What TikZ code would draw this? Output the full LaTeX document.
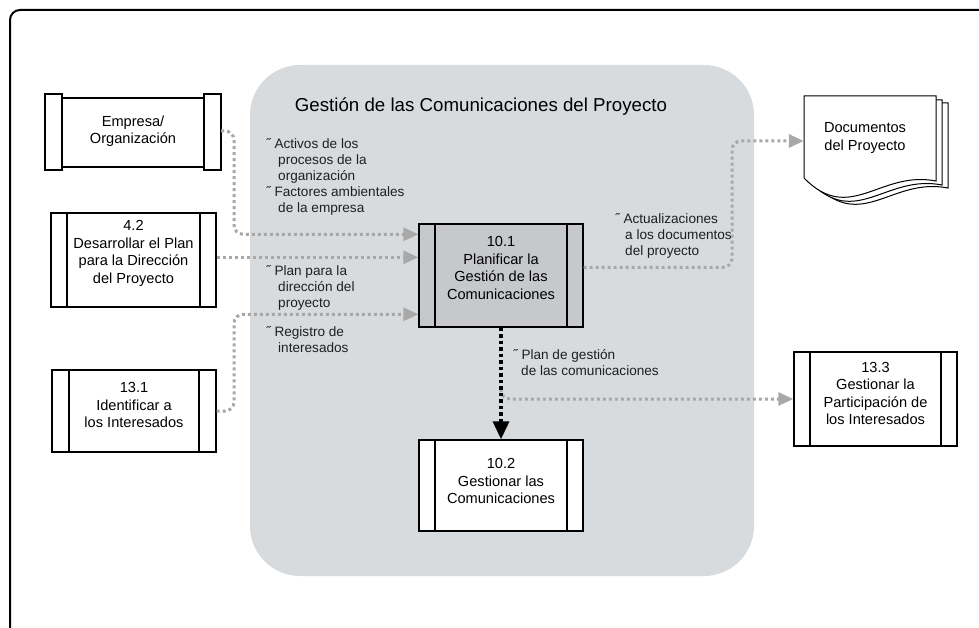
\documentclass[tikz,border=0pt]{standalone}
\usepackage{fontspec}
\setmainfont{Liberation Sans}
\usetikzlibrary{arrows.meta,calc}
\definecolor{regiongray}{RGB}{216,219,222}
\definecolor{procgray}{RGB}{198,200,203}
\definecolor{flowgray}{RGB}{168,168,168}
\newcommand{\bul}{˝\ }
\begin{document}
\begin{tikzpicture}[x=1pt,y=-1pt,
  procbox/.style={draw=black, line width=1.4pt, fill=white, inner sep=0pt},
  bars/.style={path picture={
      \draw[line width=1.4pt] ([xshift=#1]path picture bounding box.north west) -- ([xshift=#1]path picture bounding box.south west);
      \draw[line width=1.4pt] ([xshift=-#1]path picture bounding box.north east) -- ([xshift=-#1]path picture bounding box.south east);}},
  boxtext/.style={font=\fontsize{14.6}{17.5}\selectfont, align=center, inner sep=0pt},
  lbl/.style={font=\fontsize{13.6}{16}\selectfont, align=left, anchor=north west, inner sep=0pt, text=black!88},
  flow/.style={draw=flowgray, line width=3pt, dash pattern=on 3pt off 3pt, rounded corners=9pt,
      -{Triangle[length=15pt,width=13pt,fill=flowgray]}},
  mainflow/.style={draw=black, line width=3.5pt, dash pattern=on 3.5pt off 3pt,
      -{Triangle[length=18pt,width=16pt,fill=black]}},
  pagestyle/.style={draw=black, line width=1pt, fill=white}
]
\useasboundingbox (0,0) rectangle (979,628);
\clip (0,0) rectangle (979,628);

% outer frame
\draw[line width=2pt, rounded corners=10pt] (10,650) -- (10,10) -- (1000,10);

% process group region
\fill[regiongray, rounded corners=50pt] (250,65) rectangle (754,576);
\node[font=\fontsize{18.7}{22}\selectfont, inner sep=0pt] (title) at (481,107) {Gestión de las Comunicaciones del Proyecto};

% Empresa / Organizacion
\draw[procbox] (45,94) rectangle (62,170);
\draw[procbox] (204,94) rectangle (221,170);
\draw[procbox] (62,98) rectangle (204,167);
\node[inner sep=0pt, minimum width=176pt, minimum height=76pt, boxtext] (emp) at (133,131) {Empresa/\\Organización};

% 4.2
\node[procbox, bars=16pt, minimum width=165pt, minimum height=94pt] (p42) at (133.5,260) {};
\node[boxtext] (p42t) at (133.5,253.5) {4.2\\Desarrollar el Plan\\para la Dirección\\del Proyecto};

% 13.1
\node[procbox, bars=17pt, minimum width=164pt, minimum height=82pt] (p131) at (134,411) {};
\node[boxtext] (p131t) at (134,405) {13.1\\Identificar a\\los Interesados};

% 10.1
\node[procbox, bars=16pt, fill=procgray, minimum width=164pt, minimum height=103pt] (p101) at (501,275.5) {};
\node[boxtext] (p101t) at (501,268) {10.1\\Planificar la\\Gestión de las\\Comunicaciones};

% 10.2
\node[procbox, bars=16pt, minimum width=164pt, minimum height=91pt] (p102) at (501,485.5) {};
\node[boxtext] (p102t) at (501,481) {10.2\\Gestionar las\\Comunicaciones};

% 13.3
\node[procbox, bars=16pt, minimum width=163pt, minimum height=94pt] (p133) at (875.5,399) {};
\node[boxtext] (p133t) at (875.5,393.5) {13.3\\Gestionar la\\Participación de\\los Interesados};

% Documentos del Proyecto (stack of pages)
\foreach \dx/\dy in {12/7,6/4,0/0}{
  \draw[pagestyle] (804+\dx,96+\dy) -- (936+\dx,96+\dy) -- (936+\dx,181+\dy)
     .. controls (880+\dx,170+\dy) and (850+\dx,225+\dy) .. (804+\dx,178+\dy) -- cycle;
}
\node[boxtext, minimum width=122pt, minimum height=84pt] (docs) at (865,138) {Documentos\\del Proyecto};

% helper coordinates
\coordinate (lane) at (234,0);
\coordinate (lane2) at (732,0);
\coordinate (in1) at ([yshift=-11pt]p101.north west);
\coordinate (in2) at ([yshift=-34pt]p101.north west);
\coordinate (in3) at ([yshift=-91pt]p101.north west);
\coordinate (out1) at ([yshift=-44pt]p101.north east);
\coordinate (docin) at ([yshift=-3pt]docs.west);
\coordinate (br) at (p101.south |- p133.west);

% connectors
\draw[flow] (emp.east) -| (in1 -| lane) -- (in1);
\draw[flow] (in2 -| p42.east) -- (in2);
\draw[flow] (p131.east) -| (in3 -| lane) -- (in3);
\draw[flow] (out1) -| (docin -| lane2) -- (docin);
\draw[flow] ([yshift=8pt]br) |- (p133.west);
\draw[mainflow] (p101.south) -- (p102.north);

% labels
\node[lbl] (l1) at (266,138) {\bul Activos de los\\\hspace*{12pt}procesos de la\\\hspace*{12pt}organización\\\bul Factores ambientales\\\hspace*{12pt}de la empresa};
\node[lbl] (l2) at (266,265) {\bul Plan para la\\\hspace*{12pt}dirección del\\\hspace*{12pt}proyecto};
\node[lbl] (l3) at (266,326) {\bul Registro de\\\hspace*{12pt}interesados};
\node[lbl] (l4) at (615,213) {\bul Actualizaciones\\\hspace*{10pt}a los documentos\\\hspace*{10pt}del proyecto};
\node[lbl] (l5) at (513,349) {\bul Plan de gestión\\\hspace*{8pt}de las comunicaciones};
\end{tikzpicture}
\end{document}
